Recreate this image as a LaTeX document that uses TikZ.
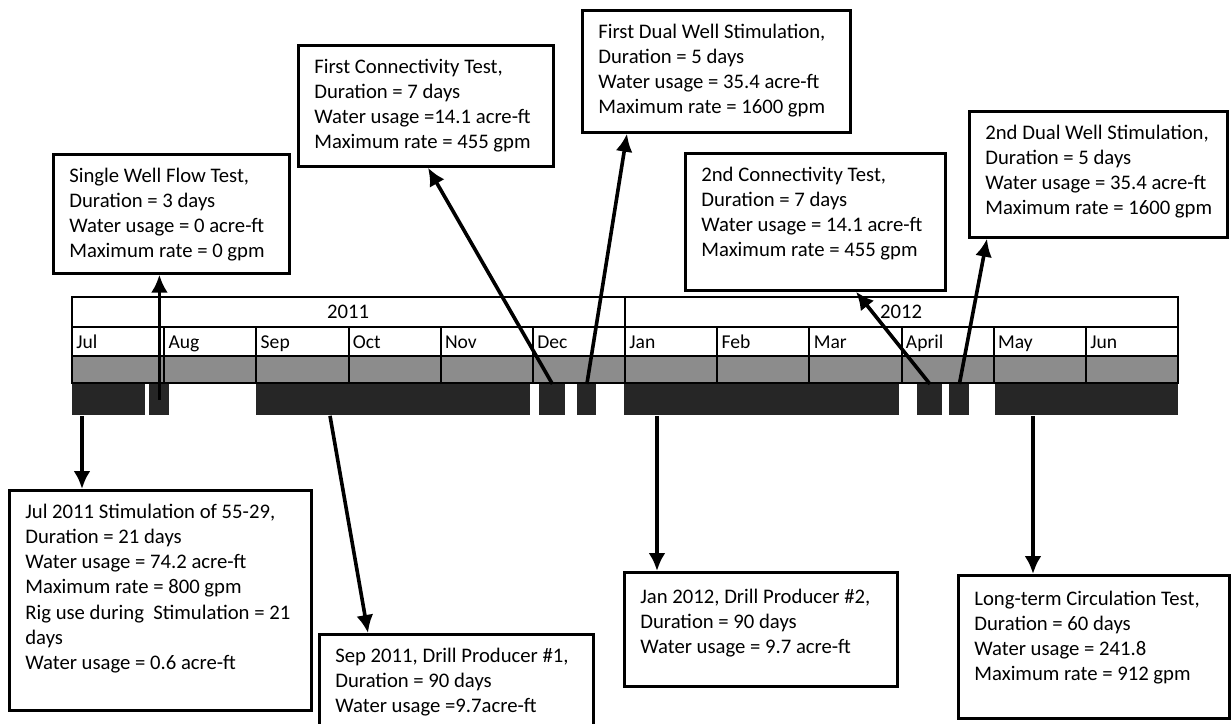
\documentclass[tikz,border=0pt]{standalone}
\usepackage{fontspec}
\setmainfont{Carlito}
\usetikzlibrary{positioning, arrows.meta}
\newdimen\px \px=0.5pt
\newcommand{\evtext}[3]{\parbox[t][\dimexpr #2\px-20\px\relax][t]{\dimexpr #1\px-32\px\relax}{\begin{tabular}[t]{@{}l@{}}#3\end{tabular}}}

\begin{document}
\begin{tikzpicture}[-{Latex[length=9pt, width=8.5pt]}, x=0.5pt, y=-0.5pt,
      evbox/.style={draw, line width=1.35pt, fill=white, anchor=north west,
        inner xsep=16\px, inner ysep=10\px, font=\fontsize{10.35pt}{12.65pt}\selectfont},
      tl/.style={-, line width=1pt},
      bar/.style={fill=black!85, anchor=north west, minimum height=31\px, inner sep=0pt},
      arr/.style={line width=1.8pt},
      mlabel/.style={anchor=base west, inner sep=0pt, font=\fontsize{9.8pt}{11pt}\selectfont}]
      \useasboundingbox (0,0) rectangle (1231,723);
      % year row
      \draw[tl] (72,297) rectangle (1178,327);
      \draw[tl] (625,297) -- (625,327);
      \node[font=\fontsize{10.35pt}{12pt}\selectfont] (y2011) at (348,312) {2011};
      \node[font=\fontsize{10.35pt}{12pt}\selectfont] (y2012) at (901,312) {2012};
      % months and gray band
      \foreach \m [count=\i from 0] in {Jul,Aug,Sep,Oct,Nov,Dec,Jan,Feb,Mar,April,May,Jun} {
        \draw[tl] ({72+92.17*\i},327) rectangle ({72+92.17*(\i+1)},356);
        \draw[tl, fill=black!45] ({72+92.17*\i},356) rectangle ({72+92.17*(\i+1)},383);
        \node[mlabel] (m\i) at ({76+92.17*\i},348) {\m};
      }
      % activity bars
      \node[bar, minimum width=73\px] (bJul) at (72,384) {};
      \node[bar, minimum width=20\px] (bAug) at (149,384) {};
      \node[bar, minimum width=274\px] (bSep) at (256,384) {};
      \node[bar, minimum width=26\px] (bDec1) at (539,384) {};
      \node[bar, minimum width=19\px] (bDec2) at (577,384) {};
      \node[bar, minimum width=275\px] (bJan) at (624,384) {};
      \node[bar, minimum width=25\px] (bApr1) at (917,384) {};
      \node[bar, minimum width=20\px] (bApr2) at (949,384) {};
      \node[bar, minimum width=183\px] (bMay) at (995,384) {};
      % boxes above
      \node[evbox] (single) at (52,153) {\evtext{236}{119}{Single Well Flow Test,\\Duration = 3 days\\Water usage = 0 acre-ft\\Maximum rate = 0 gpm}};
      \node[evbox] (conn1) at (297,44) {\evtext{255}{121}{First Connectivity Test,\\Duration = 7 days\\Water usage =14.1 acre-ft\\Maximum rate = 455 gpm}};
      \node[evbox] (dual1) at (581,9) {\evtext{268}{122}{First Dual Well Stimulation,\\Duration = 5 days\\Water usage = 35.4 acre-ft\\Maximum rate = 1600 gpm}};
      \node[evbox] (conn2) at (684,152) {\evtext{260}{137}{2nd Connectivity Test,\\Duration = 7 days\\Water usage = 14.1 acre-ft\\Maximum rate = 455 gpm}};
      \node[evbox] (dual2) at (968,110) {\evtext{258}{126}{2nd Dual Well Stimulation,\\Duration = 5 days\\Water usage = 35.4 acre-ft\\Maximum rate = 1600 gpm}};
      % boxes below
      \node[evbox] (jul) at (8,489) {\evtext{302}{220}{Jul 2011 Stimulation of 55-29,\\Duration = 21 days\\Water usage = 74.2 acre-ft\\Maximum rate = 800 gpm\\Rig use during~ Stimulation = 21\\days\\Water usage = 0.6 acre-ft}};
      \node[evbox] (sep) at (318,633) {\evtext{274}{110}{Sep 2011, Drill Producer \#1,\\Duration = 90 days\\Water usage =9.7acre-ft}};
      \node[evbox, inner ysep=13\px] (jan) at (623,571) {\evtext{273}{108}{Jan 2012, Drill Producer \#2,\\Duration = 90 days\\Water usage = 9.7 acre-ft}};
      \node[evbox, inner ysep=12\px] (long) at (957,574) {\evtext{271}{139}{Long-term Circulation Test,\\Duration = 60 days\\Water usage = 241.8\\Maximum rate = 912 gpm}};
      % arrows
      \draw[arr] (bAug.center) -- (bAug.center |- single.south);
      \draw[arr] ([xshift=5pt]bJul.south west) -- ([xshift=5pt]bJul.south west |- jul.north);
      \draw[arr] ([xshift=37pt]bSep.south west) -- ([xshift=25pt]sep.north west);
      \draw[arr] (bDec1.north) -- ([xshift=65.5pt]conn1.south west);
      \draw[arr] (bDec2.north) -- ([xshift=23pt]dual1.south west);
      \draw[arr] ([xshift=16.5pt]bJan.south west) -- ([xshift=16.5pt]bJan.south west |- jan.north);
      \draw[arr] (bApr1.north) -- ([xshift=86pt]conn2.south west);
      \draw[arr] (bApr2.north) -- ([xshift=9.5pt]dual2.south west);
      \draw[arr] ([xshift=19pt]bMay.south west) -- ([xshift=19pt]bMay.south west |- long.north);
  \end{tikzpicture}
\end{document}
